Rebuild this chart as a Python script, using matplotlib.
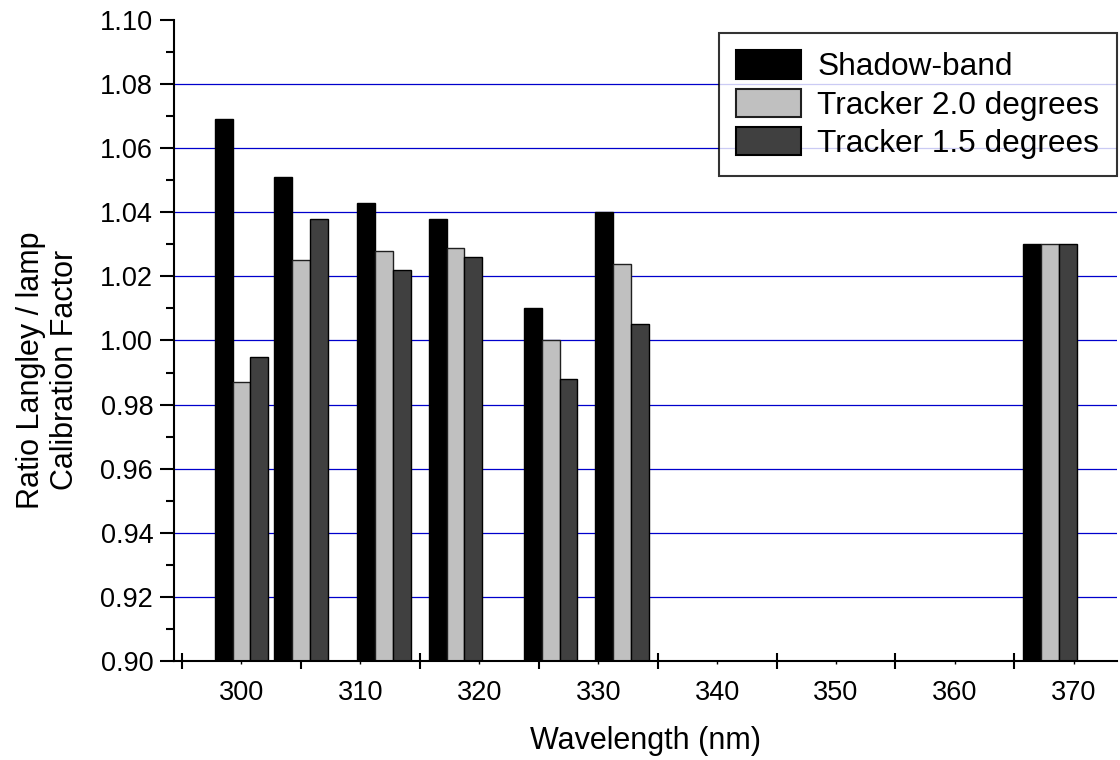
import matplotlib
matplotlib.use('Agg')
import matplotlib.pyplot as plt
from matplotlib.ticker import MultipleLocator, FixedLocator
from matplotlib.patches import Patch

plt.rcParams['font.family'] = ['Liberation Sans', 'DejaVu Sans']

# Data
wavelength = [300, 305, 312, 318, 326, 332, 368]
shadow_band = [1.069, 1.051, 1.043, 1.038, 1.010, 1.040, 1.030]
tracker_20 = [0.987, 1.025, 1.028, 1.029, 1.000, 1.024, 1.030]
tracker_15 = [0.995, 1.038, 1.022, 1.026, 0.988, 1.005, 1.030]

series = ['Shadow-band', 'Tracker 2.0 degrees', 'Tracker 1.5 degrees']
colors = ['#000000', '#c0c0c0', '#404040']
edges = ['#000000', '#202020', '#000000']

x_labels = [300, 310, 320, 330, 340, 350, 360, 370]
x_marks = [295, 305, 315, 325, 335, 345, 355, 365]
y_grid = [0.92, 0.94, 0.96, 0.98, 1.00, 1.02, 1.04, 1.06, 1.08]

fig = plt.figure(figsize=(11.2, 7.6), dpi=100)
ax = fig.add_axes([0.1554, 0.1303, 0.8416, 0.8434])

w = 1.5
for i, vals in enumerate([shadow_band, tracker_20, tracker_15]):
    xs = [x + (i - 1) * w for x in wavelength]
    hs = [v - 0.9 for v in vals]
    ax.bar(xs, hs, width=w, bottom=0.9, color=colors[i], edgecolor=edges[i],
           linewidth=1.0, zorder=3)

for g in y_grid:
    ax.axhline(g, color='#0000cc', linewidth=0.9, zorder=1)

ax.set_xlim(294.33, 373.6)
ax.set_ylim(0.90, 1.10)

ax.spines['top'].set_visible(False)
ax.spines['right'].set_visible(False)
ax.spines['left'].set_linewidth(1.5)
ax.spines['bottom'].set_linewidth(1.5)
ax.spines['left'].set_zorder(4)
ax.spines['bottom'].set_zorder(4)

ax.xaxis.set_major_locator(FixedLocator(x_labels))
ax.xaxis.set_minor_locator(FixedLocator(x_marks))
ax.tick_params(axis='x', which='major', direction='out', length=2, width=1,
               labelsize=19.5, pad=12)
ax.tick_params(axis='x', which='minor', direction='inout', length=11, width=1.5)

ax.yaxis.set_major_locator(MultipleLocator(0.02))
ax.yaxis.set_minor_locator(MultipleLocator(0.01))
ax.yaxis.set_major_formatter(plt.FormatStrFormatter('%.2f'))
ax.tick_params(axis='y', which='major', direction='out', length=10, width=1.5,
               labelsize=19.5, pad=5)
ax.tick_params(axis='y', which='minor', direction='out', length=6, width=1.5)

ax.set_xlabel('Wavelength (nm)', fontsize=22, labelpad=14)
ax.set_ylabel('Ratio Langley / lamp\nCalibration Factor', fontsize=22)
ax.yaxis.set_label_coords(-0.0995, 0.454)

handles = [Patch(facecolor=colors[i], edgecolor=edges[i], linewidth=1.5)
           for i in range(3)]
leg = ax.legend(handles, series, loc='upper right', bbox_to_anchor=(1.0, 0.98),
                borderaxespad=0, fontsize=22.8, frameon=True, fancybox=False,
                handlelength=2.05, handleheight=1.0, handletextpad=0.5,
                labelspacing=0.2, borderpad=0.55)
leg.get_frame().set_edgecolor('black')
leg.get_frame().set_linewidth(1.5)
leg.set_zorder(5)

fig.savefig('out.png', dpi=100)
